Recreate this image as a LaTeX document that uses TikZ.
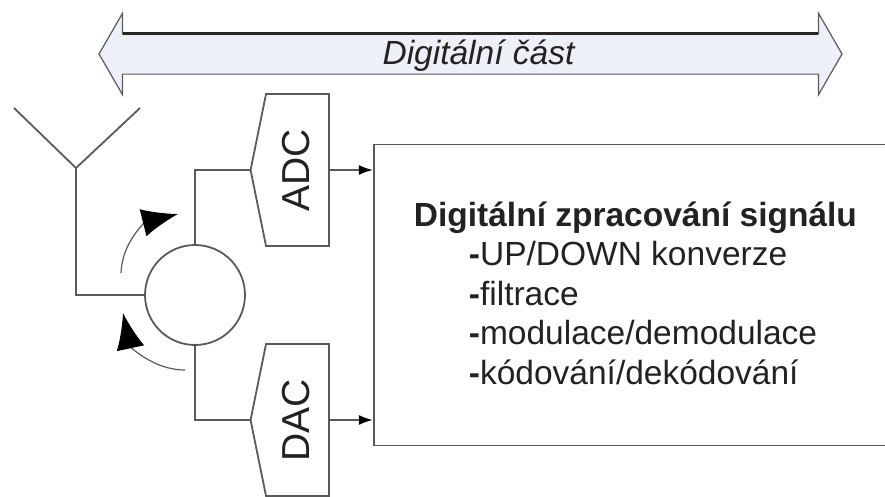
\documentclass[tikz,border=0pt]{standalone}
\usepackage{fontspec}
\setmainfont{Liberation Sans}
\usepackage{xcolor}
\usetikzlibrary{arrows.meta,positioning,shapes.arrows,shapes.symbols}
\definecolor{DLine}{HTML}{5A5A5A}
\definecolor{DBand}{HTML}{EEF0F8}
\definecolor{DText}{HTML}{222222}

\begin{document}
\begin{tikzpicture}[
  x=1pt,y=1pt,
  line width=1.8pt,
  l/.style={draw=DLine},
  band/.style={double arrow,draw=DLine,line width=1.2pt,fill=DBand,
    minimum height=743pt,minimum width=80pt,inner sep=0pt,text height=39pt,
    double arrow head extend=20.5pt,double arrow tip angle=120},
  bandtext/.style={text=DText,inner sep=0pt,
    font=\fontsize{33.5}{36}\selectfont\itshape},
  conv/.style={signal,signal to=north,rotate=90,draw=DLine,fill=white,text=DText,
    minimum width=152pt,minimum height=72pt,signal pointer angle=157,text depth=3pt,
    font=\fontsize{39}{42}\selectfont},
  a/.style={-{Latex[length=14pt,width=10pt,black]},draw=DLine},
  rot/.style={-{Latex[length=36pt,width=28pt,black]},draw=DLine,line width=1.2pt},
  head/.style={anchor=base west,text=DText,inner sep=0pt,
    font=\fontsize{33.5}{36}\selectfont\bfseries},
  listitem/.style={anchor=base west,text=DText,inner sep=0pt,
    font=\fontsize{33.5}{36}\selectfont}
]
  \useasboundingbox (0,0) rectangle (885,-496);
  % top band
  \node[band] (part) at (470.5,-54) {};
  \draw[line width=2.4pt,draw=black!85] (part.before head 1) -- (part.after head 2);
  \node[bandtext] (parttext) at ([xshift=8pt,yshift=-2pt]part.center) {Digitální část};
  % antenna
  \coordinate (feed) at (76,-168);
  \coordinate (ant1) at (14,-108);
  \coordinate (ant2) at (140,-108);
  \node[circle,l,minimum size=100pt,inner sep=0pt,fill=white] (circ) at (195,-295) {};
  \draw[l] (ant1) -- (feed) -- (ant2);
  \draw[l] (feed) |- (circ.west);
  % converters
  \node[conv] (adc) at (297.5,-170) {ADC};
  \node[conv] (dac) at ([yshift=-250pt]adc) {DAC};
  \draw[l] (circ.north) |- (adc.north);
  \draw[l] (circ.south) |- (dac.north);
  % processing block
  \node[draw=DLine,minimum width=512pt,minimum height=301pt,right=43pt of adc.south,
    yshift=-125pt] (dsp) {};
  \draw[a] (adc.south) -- (adc.south -| dsp.west);
  \draw[a] (dac.south) -- (dac.south -| dsp.west);
  \node[head] (title) at (413,-226.5) {Digitální zpracování signálu};
  \node[listitem] (updown) at ([shift={(55,-39)}]title.base west) {\textbf{-}UP/DOWN konverze};
  \node[listitem] (filt) at ([yshift=-39.5pt]updown.base west) {\textbf{-}filtrace};
  \node[listitem] (modem) at ([yshift=-39.5pt]filt.base west) {\textbf{-}modulace/demodulace};
  \node[listitem] (codec) at ([yshift=-39.5pt]modem.base west) {\textbf{-}kódování/dekódování};
  % direction of rotation
  \coordinate (r1a) at (121,-273);
  \coordinate (r1b) at (178,-214);
  \coordinate (r2a) at (185,-370);
  \coordinate (r2b) at (123,-313);
  \draw[rot] (r1a) to[out=88,in=194] (r1b);
  \draw[rot] (r2a) to[out=180,in=-78] (r2b);
\end{tikzpicture}
\end{document}
